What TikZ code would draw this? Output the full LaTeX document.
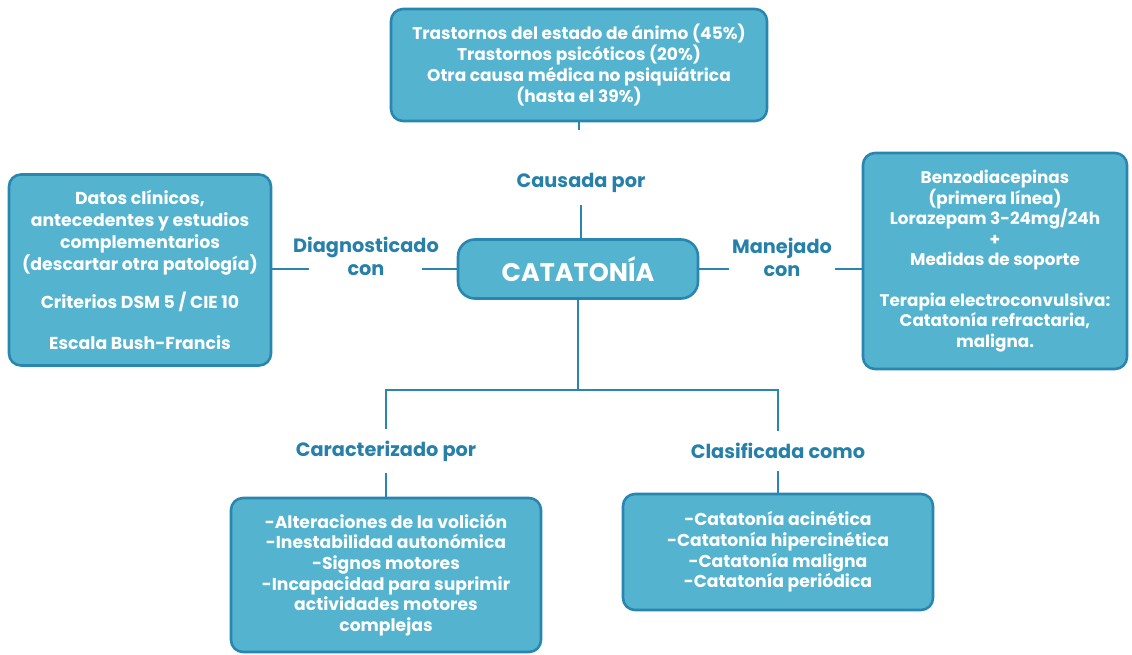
\documentclass[tikz,border=0pt]{standalone}
\usepackage{fontspec}
\setmainfont{Poppins}
\usetikzlibrary{positioning}
\definecolor{boxfill}{RGB}{84,180,207}
\definecolor{boxedge}{RGB}{40,134,177}
\definecolor{lbltext}{RGB}{38,128,170}

\begin{document}
\begin{tikzpicture}[x=1pt, y=-1pt,
  box/.style={draw=boxedge, fill=boxfill, line width=2.6pt, rounded corners=12pt,
    text=white, align=center, inner sep=0pt,
    font=\bfseries\fontsize{17}{21}\selectfont},
  lbl/.style={text=lbltext, align=center, inner xsep=3pt, inner ysep=12pt,
    font=\bfseries\fontsize{19.3}{23}\selectfont},
  link/.style={draw=boxedge, line width=2.6pt}]
  \useasboundingbox (0,0) rectangle (1132,655);

  % central concept
  \node[box, minimum width=240, minimum height=59, rounded corners=17pt,
    font=\bfseries\fontsize{25.5}{28}\selectfont] (cat) at (578,269) {CATATONÍA};

  % boxes
  \node[box, minimum width=376, minimum height=112] (causas) at (579,65)
    {Trastornos del estado de ánimo (45\%)\\ Trastornos psicóticos (20\%)\\
     Otra causa médica no psiquiátrica\\ (hasta el 39\%)};
  \node[box, minimum width=262, minimum height=191,
    font=\bfseries\fontsize{17.3}{22}\selectfont] (diagbox) at (140,270)
    {Datos clínicos,\\ antecedentes y estudios\\ complementarios\\
     (descartar otra patología)\\[16pt] Criterios DSM 5 / CIE 10\\[19pt]
     Escala Bush-Francis};
  \node[box, minimum width=264, minimum height=216,
    font=\bfseries\fontsize{16.8}{20.5}\selectfont] (manejobox) at (995,261)
    {Benzodiacepinas\\ (primera línea)\\ Lorazepam 3-24mg/24h\\ +\\
     Medidas de soporte\\[20pt] Terapia electroconvulsiva:\\
     Catatonía refractaria,\\ maligna.};
  \node[box, minimum width=310, minimum height=154,
    font=\bfseries\fontsize{17.2}{20.6}\selectfont] (caracbox) at (386,575)
    {-Alteraciones de la volición\\ -Inestabilidad autonómica\\ -Signos motores\\
     -Incapacidad para suprimir\\ actividades motores\\ complejas};
  \node[box, minimum width=310, minimum height=116,
    font=\bfseries\fontsize{17.2}{20.6}\selectfont] (clasifbox) at (778,552)
    {-Catatonía acinética\\ -Catatonía hipercinética\\ -Catatonía maligna\\
     -Catatonía periódica};

  % link labels
  \node[lbl] (causa) at (581,183) {Causada por};
  \node[lbl] (diag) at (366,256) {Diagnosticado\\ con};
  \node[lbl] (manejo) at (782,257) {Manejado\\ con};
  \node[lbl] (carac) at (386,451) {Caracterizado por};
  \node[lbl] (clasif) at (778,451) {Clasificada como};

  % connectors
  \coordinate (stub) at (579,130);
  \coordinate (split) at (578,390);
  \draw[link] (causas) -- (stub);
  \draw[link] (causa) -- (causa |- cat.north);
  \draw[link, shorten >=-19pt] (diagbox.east |- cat) -- (diag.west |- cat);
  \draw[link, shorten <=-20pt] (diag.east |- cat) -- (cat.west);
  \draw[link] (cat.east) -- (manejo.west |- cat);
  \draw[link] (manejo.east |- cat) -- (manejobox.west |- cat);
  \draw[link] (cat) -- (split);
  \foreach \lab/\bx in {carac/caracbox, clasif/clasifbox}{
    \draw[link] (split) -| (\lab);
    \draw[link] (\lab) -- (\bx);
  }
\end{tikzpicture}
\end{document}
